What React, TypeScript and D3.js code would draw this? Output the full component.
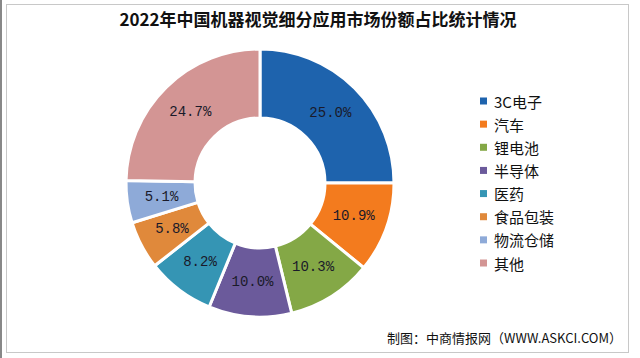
import React from "react";
import * as d3 from "d3";

const categories = ["3C电子", "汽车", "锂电池", "半导体", "医药", "食品包装", "物流仓储", "其他"];
const shares = [25.0, 10.9, 10.3, 10.0, 8.2, 5.8, 5.1, 24.7];
const colors = ["#1E63AD", "#F37B1E", "#84A846", "#6B5A9B", "#3595B4", "#E0893B", "#8EAAD8", "#D39594"];
const title = "2022年中国机器视觉细分应用市场份额占比统计情况";
const source = "制图：中商情报网（WWW.ASKCI.COM）";

export default function App() {
  const W = 640, H = 358;
  const cx = 260, cy = 183, rOuter = 134, rInner = 65;
  const pie = d3.pie<number>().sort(null).value((d) => d)(shares);
  const arc = d3.arc<d3.PieArcDatum<number>>().innerRadius(rInner).outerRadius(rOuter);
  const legendY = d3.scalePoint<string>().domain(categories).range([101, 263]);
  return (
    <svg width={W} height={H} style={{ position: "absolute", left: 0, top: 0, background: "#fff" }}
      fontFamily="'Noto Sans CJK SC', sans-serif">
      <rect x={0} y={0} width={2} height={H} fill="#888" />
      <rect x={6.5} y={4.5} width={622} height={348} fill="#fff" stroke="#c8c8c8" strokeWidth={1} />
      <text x={318} y={26} textAnchor="middle" fontSize={17} fontWeight="bold" fill="#111">{title}</text>
      <g transform={`translate(${cx},${cy})`}>
        {pie.map((d, i) => (
          <path key={i} d={arc(d) || ""} fill={colors[i]} stroke="#fff" strokeWidth={3} />
        ))}
        {pie.map((d, i) => {
          const [x, y] = arc.centroid(d);
          return (
            <text key={"l" + i} x={x} y={y} textAnchor="middle" dominantBaseline="central"
              fontFamily="'Liberation Mono', monospace" fontSize={14} fill="#1a1a2a">
              {shares[i].toFixed(1) + "%"}
            </text>
          );
        })}
      </g>
      {categories.map((c, i) => (
        <g key={c} transform={`translate(480,${legendY(c)})`}>
          <rect x={0} y={-3.5} width={7} height={7} fill={colors[i]} />
          <text x={14} y={0} dominantBaseline="central" fontSize={15} fill="#111">{c}</text>
        </g>
      ))}
      <text x={622} y={343} textAnchor="end" fontSize={13} fill="#111">{source}</text>
    </svg>
  );
}
